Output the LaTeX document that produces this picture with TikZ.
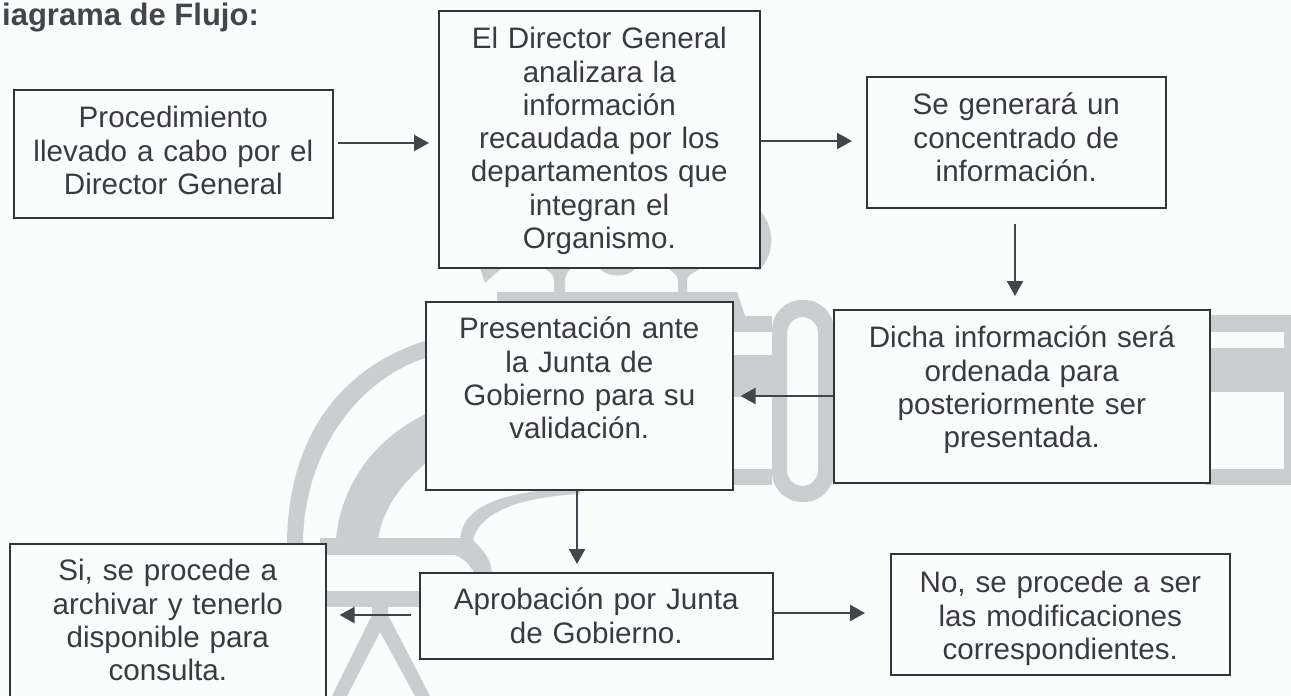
\documentclass[tikz,border=0pt]{standalone}
\usepackage{fontspec}
\setmainfont{Liberation Sans}
\usetikzlibrary{arrows.meta}
\definecolor{paper}{HTML}{FBFCFC}
\definecolor{mark}{HTML}{CBCDD0}
\definecolor{ink}{HTML}{3A3A42}
\definecolor{lineink}{HTML}{33333A}
\definecolor{arrowink}{HTML}{44444E}
\tikzset{
  flowbox/.style n args={3}{draw=lineink, line width=1.6pt, fill=paper, text=ink, inner sep=0pt,
    anchor=north west, align=center, text width=#1pt, text height=#2pt, text depth=#3pt,
    font=\fontsize{29.6}{33.3}\selectfont},
  conn/.style={draw=arrowink, line width=2.4pt, -{Triangle[length=15pt,width=16pt,fill=arrowink]}},
  wm/.style={fill=mark, draw=none},
  titletext/.style={text=arrowink, inner sep=0pt, anchor=base west, font=\fontsize{31}{34}\selectfont\bfseries}
}
\begin{document}
\begin{tikzpicture}[x=1pt,y=-1pt]
\useasboundingbox (0,0) rectangle (1291,696);
\fill[paper] (0,0) rectangle (1291,696);
% watermark
\fill[wm] (1205,315) rectangle (1291,332);
\fill[wm] (1205,348) rectangle (1284,392);
\fill[wm] (1205,469) rectangle (1291,485);
\fill[wm] (1284,315) rectangle (1291,485);
\fill[wm,even odd rule] (772,330) arc[start angle=180,end angle=270,radius=30] -- (804,300) arc[start angle=270,end angle=360,radius=30] -- (834,472) arc[start angle=0,end angle=90,radius=30] -- (802,502) arc[start angle=90,end angle=180,radius=30] -- cycle
  (787,333) arc[start angle=180,end angle=270,radius=16] -- (802,317) arc[start angle=270,end angle=360,radius=16] -- (818,470) arc[start angle=0,end angle=90,radius=16] -- (803,486) arc[start angle=90,end angle=180,radius=16] -- cycle;
\fill[wm] (730,316) rectangle (772,332);
\fill[wm] (730,355) rectangle (772,397);
\fill[wm] (730,469) rectangle (772,485);
\fill[wm] (497,292) -- (737,292) -- (745,316) -- (730,320) -- (730,305) -- (497,305) -- cycle;
\fill[wm] (540,265) .. controls (550,272) and (554,275) .. (554,280) -- (554,292) -- (565,292) -- (565,280) .. controls (565,275) and (568,272) .. (573,265) -- cycle;
\fill[wm] (665,265) .. controls (672,272) and (678,275) .. (678,280) -- (678,292) -- (687,292) -- (687,280) .. controls (687,275) and (695,272) .. (707,265) -- cycle;
\fill[wm] (479,265) -- (485,283) -- (505,265) -- cycle;
\fill[wm] (598,265) .. controls (603,279) and (632,279) .. (637,265) -- cycle;
\fill[wm] (755,207) .. controls (768,215) and (773,235) .. (771,245) .. controls (770,255) and (766,262) .. (760,270) -- (755,270) -- cycle;
\fill[wm] (287,545) .. controls (287,450) and (330,370) .. (428,340) -- (428,357) .. controls (360,378) and (303,450) .. (303,545) -- cycle;
\fill[wm] (336,540) .. controls (340,490) and (370,440) .. (428,413) -- (428,461) .. controls (400,485) and (382,510) .. (378,540) -- cycle;
\fill[wm] (320,538) rectangle (462,555);
\fill[wm] (460,540) .. controls (462,510) and (490,492) .. (580,487) -- (580,494) .. controls (520,497) and (480,512) .. (473,540) .. controls (482,550) and (492,558) .. (492,575) -- (475,575) .. controls (470,563) and (462,558) .. (455,555) -- cycle;
\fill[wm] (320,591) rectangle (422,607);
\fill[wm] (372,605) -- (388,605) -- (388,615) -- (430,696) -- (415,696) -- (380,632) -- (347,696) -- (332,696) -- (372,615) -- cycle;
% title
\node[titletext] (title) at (2,25) {iagrama de Flujo:};
% boxes
\node[flowbox={319}{38}{90}] (a) at (13,89) {Procedimiento\\llevado a cabo por el\\Director General};
\node[flowbox={321}{38}{219}] (b) at (438,10) {El Director General\\analizara la\\información\\recaudada por los\\departamentos que\\integran el\\Organismo.};
\node[flowbox={299}{38}{93}] (c) at (866,76) {Se generará un\\concentrado de\\información.};
\node[flowbox={376}{38}{135}] (d) at (833,309) {Dicha información será\\ordenada para\\posteriormente ser\\presentada.};
\node[flowbox={307}{37}{151}] (e) at (425,301) {Presentación ante\\la Junta de\\Gobierno para su\\validación.};
\node[flowbox={353}{37}{49}] (f) at (419,572) {Aprobación por Junta\\de Gobierno.};
\node[flowbox={316}{37}{125}] (g) at (9,543) {Si, se procede a\\archivar y tenerlo\\disponible para\\consulta.};
\node[flowbox={339}{39}{82}] (h) at (890,553) {No, se procede a ser\\las modificaciones\\correspondientes.};
% connectors
\draw[conn, shorten <=4pt, shorten >=9pt] (a.east |- 0,143) -- (b.west |- 0,143);
\draw[conn, shorten >=14pt] (b.east |- 0,141) -- (c.west |- 0,141);
\draw[conn, shorten <=15pt, shorten >=13pt] (1015,0 |- c.south) -- (1015,0 |- d.north);
\draw[conn, shorten >=7pt] (d.west |- 0,396) -- (e.east |- 0,396);
\draw[conn, shorten >=8pt] (577,0 |- e.south) -- (577,0 |- f.north);
\draw[conn, shorten <=8pt, shorten >=13pt] (f.west |- 0,615) -- (g.east |- 0,615);
\draw[conn, shorten >=25pt] (f.east |- 0,613) -- (h.west |- 0,613);
\end{tikzpicture}
\end{document}
